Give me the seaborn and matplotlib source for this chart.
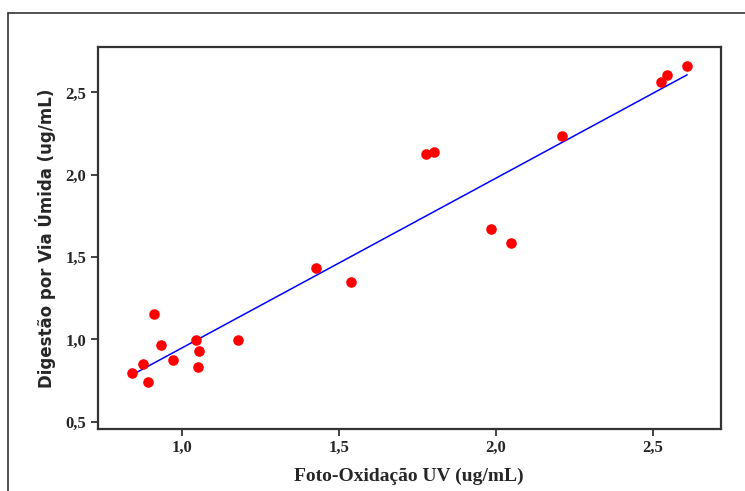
import matplotlib
matplotlib.use("Agg")
import matplotlib.pyplot as plt
from matplotlib.lines import Line2D
import seaborn as sns
import pandas as pd

# Data
foto_oxidacao = [0.840, 0.877, 0.893, 0.910, 0.934, 0.972, 1.046, 1.055, 1.050, 1.178,
                 1.426, 1.537, 1.777, 1.803, 1.985, 2.047, 2.211, 2.526, 2.544, 2.609]
digestao = [0.798, 0.850, 0.743, 1.152, 0.968, 0.875, 0.996, 0.928, 0.834, 0.996,
            1.432, 1.347, 2.126, 2.140, 1.669, 1.585, 2.235, 2.561, 2.607, 2.660]
x_ticks = [1.0, 1.5, 2.0, 2.5]
x_tick_labels = ["1,0", "1,5", "2,0", "2,5"]
y_ticks = [0.5, 1.0, 1.5, 2.0, 2.5]
y_tick_labels = ["0,5", "1,0", "1,5", "2,0", "2,5"]
x_label = "Foto-Oxidação UV (ug/mL)"
y_label = "Digestão por Via Úmida (ug/mL)"

df = pd.DataFrame({"x": foto_oxidacao, "y": digestao})

sns.set_style("white")
fig = plt.figure(figsize=(7.45, 4.91), dpi=100)
ax = fig.add_axes([0.1309, 0.1263, 0.9674 - 0.1309, 0.9037 - 0.1263])

sns.regplot(data=df, x="x", y="y", ax=ax, ci=None, truncate=True,
            scatter_kws=dict(color="#ff0000", s=58, linewidths=0, alpha=1, zorder=3),
            line_kws=dict(color="#0000ff", lw=1.1, zorder=2))

ax.set_xlim(0.731, 2.716)
ax.set_ylim(0.456, 2.774)
ax.set_xticks(x_ticks)
ax.set_xticklabels(x_tick_labels)
ax.set_yticks(y_ticks)
ax.set_yticklabels(y_tick_labels)

serif = ["Liberation Serif", "DejaVu Serif"]
for lab in ax.get_xticklabels() + ax.get_yticklabels():
    lab.set_fontfamily(serif)
    lab.set_fontweight("bold")
    lab.set_fontsize(12)

ax.tick_params(axis="both", which="both", direction="out", length=5, width=1.2,
               color="#222222", bottom=True, left=True, pad=3)
for sp in ax.spines.values():
    sp.set_visible(True)
    sp.set_color("#333333")
    sp.set_linewidth(1.6)

ax.set_xlabel(x_label, fontfamily=serif, fontweight="bold", fontsize=14, labelpad=8)
ax.set_ylabel(y_label, fontfamily=["DejaVu Sans"], fontweight="bold", fontsize=12, labelpad=7)

# outer frame (extends beyond right and bottom edges)
W, H = 745, 491
fig.add_artist(Line2D([8 / W, 8 / W], [0, 1 - 13 / H], transform=fig.transFigure,
                      color="#333333", lw=1.2))
fig.add_artist(Line2D([8 / W, 1.0], [1 - 13 / H, 1 - 13 / H], transform=fig.transFigure,
                      color="#333333", lw=1.2))

fig.savefig("out.png", dpi=100)
